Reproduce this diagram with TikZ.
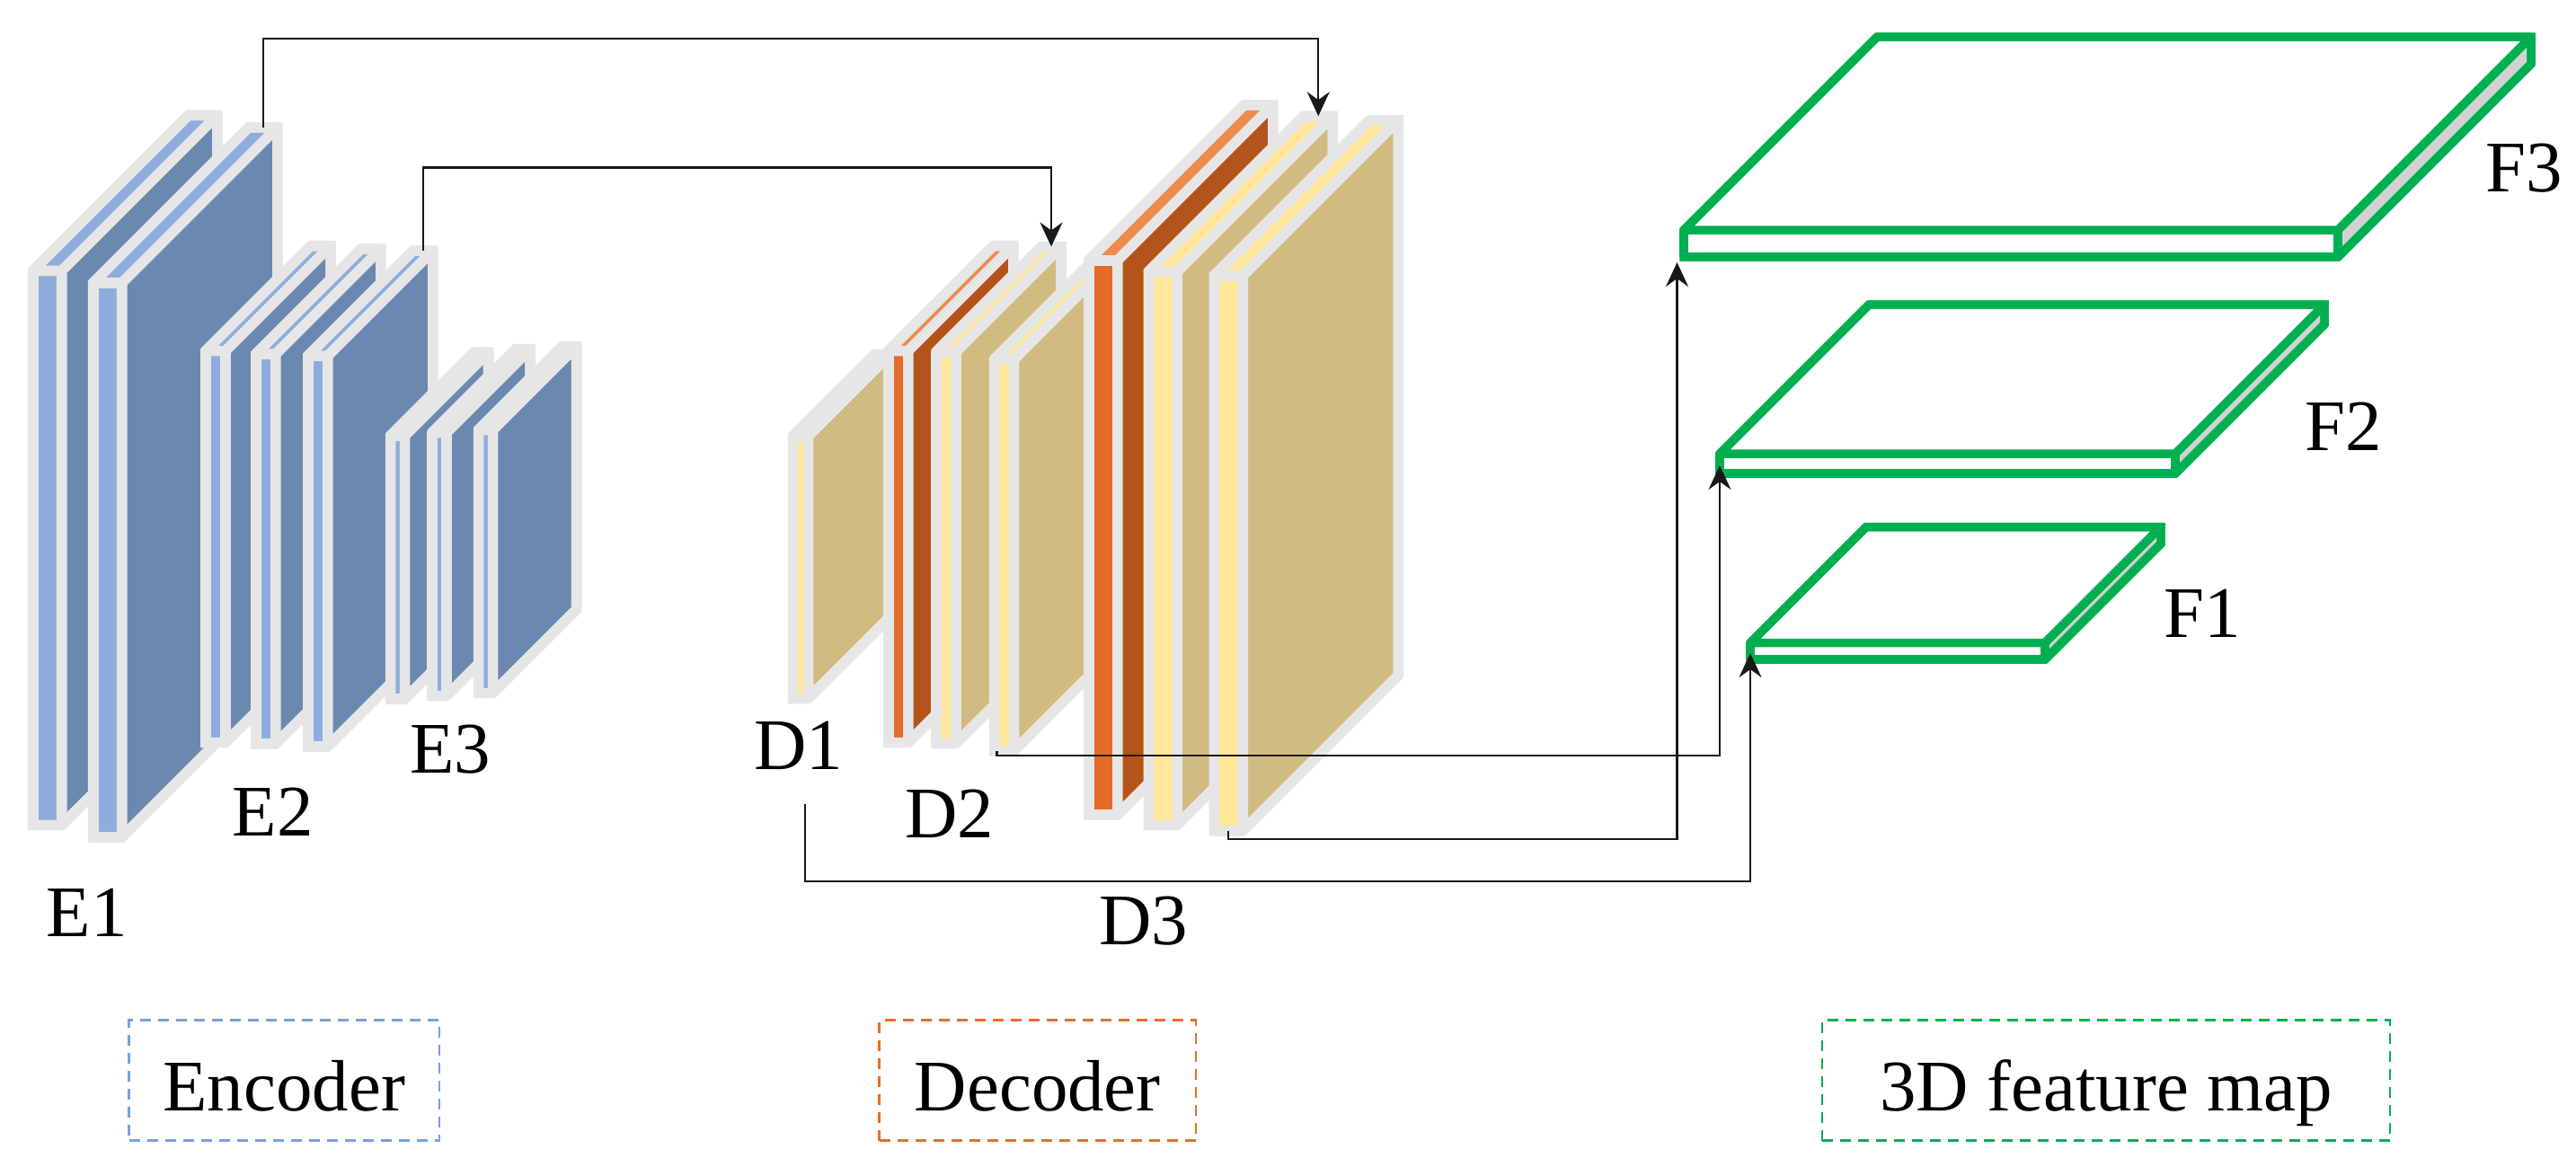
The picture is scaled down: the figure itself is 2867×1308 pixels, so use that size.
\documentclass[tikz,border=0pt]{standalone}
\usepackage{fontspec}
\setmainfont{Liberation Serif}
\usetikzlibrary{arrows.meta,calc}
\definecolor{slabgray}{RGB}{231,230,230}
\definecolor{eLight}{RGB}{143,173,220}
\definecolor{eDark}{RGB}{107,136,176}
\definecolor{dYellow}{RGB}{255,230,153}
\definecolor{dTan}{RGB}{209,187,128}
\definecolor{dOrange}{RGB}{226,108,40}
\definecolor{dBrown}{RGB}{181,84,26}
\definecolor{dOrangeTop}{RGB}{238,140,80}
\definecolor{fGreen}{RGB}{0,176,80}
\definecolor{fSide}{RGB}{210,210,210}
\definecolor{encBlue}{RGB}{120,160,220}
\definecolor{decOrange}{RGB}{232,110,40}
\tikzset{
 slabline/.style={draw=slabgray, line width=0.115cm, line join=bevel},
 slabsil/.style={draw=slabgray, line width=0.115cm, line join=miter},
 plateline/.style={draw=fGreen, line width=0.095cm, line join=bevel},
 platesil/.style={draw=fGreen, line width=0.095cm, line join=miter},
 lab/.style={font=\fontsize{23}{27}\selectfont, inner sep=0pt},
 conn/.style={draw=black!90, line width=0.6pt, -{Stealth[length=0.27cm,width=0.25cm,inset=0.09cm]}},
 legbox/.style={draw=#1, dash pattern=on 0.12cm off 0.08cm, line width=0.7pt, font=\fontsize{23}{27}\selectfont, text height=0.67cm, text depth=0pt, inner sep=0pt, minimum height=1.34cm},
}
\newcommand{\mkslab}[9]{%
 \filldraw[slabline, fill=#7] (#2,#3) rectangle ++(#4,#5);
 \filldraw[slabline, fill=#8] (#2+#4,#3) -- ++(#6,-#6) -- ++(0,#5) -- ++(-#6,#6) -- cycle;
 \filldraw[slabline, fill=#9] (#2,#3) -- ++(#6,-#6) -- ++(#4,0) -- ++(-#6,#6) -- cycle;
 \draw[slabsil] (#2,#3+#5) -- (#2,#3) -- ++(#6,-#6) -- ++(#4,0) -- ++(0,#5) -- ++(-#6,#6) -- cycle;
 \coordinate (#1-tc) at (#2+#4/2+#6,#3-#6);
 \coordinate (#1-bc) at (#2+#4/2,#3+#5);
 \coordinate (#1-bl) at (#2,#3+#5);
}
\newcommand{\mkplate}[6]{%
 \filldraw[plateline, fill=white] (#2,#3) rectangle ++(#4,#5);
 \filldraw[plateline, fill=white] (#2,#3) -- ++(#6,-#6) -- ++(#4,0) -- ++(-#6,#6) -- cycle;
 \filldraw[plateline, fill=fSide] (#2+#4,#3) -- ++(#6,-#6) -- ++(0,#5) -- ++(-#6,#6) -- cycle;
 \draw[platesil] (#2,#3+#5) -- (#2,#3) -- ++(#6,-#6) -- ++(#4,0) -- ++(0,#5) -- ++(-#6,#6) -- cycle;
 \coordinate (#1-fl) at (#2,#3+#5);
}
\begin{document}
\begin{tikzpicture}[x=0.01cm,y=-0.01cm]
\useasboundingbox (0,0) rectangle (2867,1308);
% Encoder E1
\mkslab{E1a}{36.75}{301.25}{32}{617}{173}{eLight}{eDark}{eLight}
\mkslab{E1b}{103.75}{314.75}{32}{617}{173}{eLight}{eDark}{eLight}
% E2
\mkslab{E2a}{229}{390.5}{22}{436}{117}{eLight}{eDark}{eLight}
\mkslab{E2b}{284.75}{394}{22}{434}{117}{eLight}{eDark}{eLight}
\mkslab{E2c}{342.75}{396}{22}{435}{117}{eLight}{eDark}{eLight}
% E3
\mkslab{E3a}{434.5}{485}{16}{293}{93}{eLight}{eDark}{eLight}
\mkslab{E3b}{481}{481.5}{16}{293}{93}{eLight}{eDark}{eLight}
\mkslab{E3c}{532.5}{478.5}{16}{293}{93}{eLight}{eDark}{eLight}
% D1
\mkslab{D1a}{882.5}{485.5}{17}{292}{91}{dYellow}{dTan}{dYellow}
% D2
\mkslab{D2a}{988.75}{390.5}{22}{436}{117}{dOrange}{dBrown}{dOrangeTop}
\mkslab{D2b}{1042}{391.5}{22}{436}{117}{dYellow}{dTan}{dYellow}
\mkslab{D2c}{1106.5}{400}{22}{436}{117}{dYellow}{dTan}{dYellow}
% D3
\mkslab{D3a}{1211.75}{289.75}{32}{617}{173}{dOrange}{dBrown}{dOrangeTop}
\mkslab{D3b}{1278.25}{302.25}{32}{616}{173}{dYellow}{dTan}{dYellow}
\mkslab{D3c}{1351.25}{306.75}{32}{618}{173}{dYellow}{dTan}{dYellow}
% 3D feature maps
\mkplate{F3}{1874}{256}{728}{30}{215}
\mkplate{F2}{1914}{505}{507}{22}{166}
\mkplate{F1}{1948}{715.5}{328}{18.5}{129}
% labels
\node[lab, anchor=base] (E1lab) at (96.7,1042) {E1};
\node[lab, anchor=base] (E2lab) at (303.6,930) {E2};
\node[lab, anchor=base] (E3lab) at (501,860) {E3};
\node[lab, anchor=base] (D1lab) at (889,856.7) {D1};
\node[lab, anchor=base] (D2lab) at (1057,932.6) {D2};
\node[lab, anchor=base] (D3lab) at (1273,1051) {D3};
\node[lab, anchor=base] (F3lab) at (2809,213) {F3};
\node[lab, anchor=base] (F2lab) at (2608,501) {F2};
\node[lab, anchor=base] (F1lab) at (2451,709) {F1};
% legend
\node[legbox=encBlue, minimum width=3.45cm] (enc) at (316.3,1202.6) {Encoder};
\node[legbox=decOrange, minimum width=3.52cm] (dec) at (1154.8,1202.6) {Decoder};
\node[legbox=fGreen, minimum width=6.32cm] (fmap) at (2344,1202.6) {3D feature map};
% connectors
\coordinate (F3tip) at (1866.5,292);
\coordinate (F2tip) at (1914,518);
\coordinate (F1tip) at (1948,727);
\coordinate (D1out) at (896,894.6);
\draw[conn] (E1b-tc) -- ++(0,-99) -| (D3b-tc);
\draw[conn] (E2c-tc) -- ++(0,-92.5) -| (D2b-tc);
\draw[conn] ($(D2c-bl)+(3,0)$) -- ++(0,5) -| (F2tip);
\draw[conn] (D3c-bc) -- ++(0,9) -| (F3tip);
\draw[conn] (D1out) -- ++(0,86) -| (F1tip);
\end{tikzpicture}
\end{document}
